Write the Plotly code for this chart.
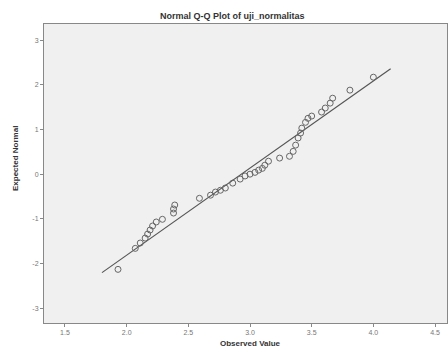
import plotly.graph_objects as go

observed = [1.93, 2.07, 2.11, 2.15, 2.17, 2.19, 2.21, 2.24, 2.29, 2.38, 2.38, 2.39,
            2.59, 2.68, 2.72, 2.76, 2.80, 2.86, 2.92, 2.96, 3.00, 3.04, 3.07, 3.10,
            3.12, 3.15, 3.24, 3.32, 3.35, 3.37, 3.39, 3.41, 3.42, 3.45, 3.47, 3.50,
            3.58, 3.61, 3.65, 3.67, 3.81, 4.00]
expected = [-2.13, -1.66, -1.54, -1.43, -1.34, -1.25, -1.16, -1.07, -1.01, -0.87, -0.78, -0.69,
            -0.54, -0.47, -0.40, -0.36, -0.31, -0.20, -0.11, -0.04, 0.00, 0.04, 0.09, 0.13,
            0.20, 0.29, 0.36, 0.40, 0.51, 0.65, 0.81, 0.92, 1.03, 1.16, 1.25, 1.30,
            1.39, 1.48, 1.59, 1.70, 1.88, 2.17]

# Reference line parameters
line_mean = 2.93
line_sd = 0.513
line_x = [1.80, 4.14]
line_y = [(v - line_mean) / line_sd for v in line_x]

x_ticks = [1.5, 2.0, 2.5, 3.0, 3.5, 4.0, 4.5]
x_tick_labels = ["1.5", "2.0", "2.5", "3.0", "3.5", "4.0", "4.5"]
y_ticks = [-3, -2, -1, 0, 1, 2, 3]
y_tick_labels = ["-3", "-2", "-1", "0", "1", "2", "3"]

fig = go.Figure()
fig.add_trace(go.Scatter(x=line_x, y=line_y, mode="lines",
                         line=dict(color="#555555", width=1.2), showlegend=False,
                         hoverinfo="skip"))
fig.add_trace(go.Scatter(x=observed, y=expected, mode="markers",
                         marker=dict(symbol="circle-open", size=6,
                                     color="#666666", line=dict(width=1, color="#666666")),
                         showlegend=False))

axis_common = dict(showgrid=False, zeroline=False, showline=True, linecolor="#888888",
                   linewidth=1, mirror=True, ticks="outside", ticklen=3,
                   tickcolor="#888888",
                   tickfont=dict(family="Liberation Sans, Arial, sans-serif", size=7,
                                 color="#777777"))

fig.update_xaxes(range=[1.33, 4.597], tickvals=x_ticks, ticktext=x_tick_labels,
                 **axis_common)
fig.update_yaxes(range=[-3.33, 3.36], tickvals=y_ticks, ticktext=y_tick_labels,
                 **axis_common)

plot_w = 448 - 44 - 1
plot_h = 354 - 24 - 31

fig.update_layout(
    width=448, height=354,
    margin=dict(l=44, r=1, t=24, b=31),
    paper_bgcolor="white", plot_bgcolor="#f0f0f0",
    font=dict(family="Liberation Sans, Arial, sans-serif", color="#333333"),
    annotations=[
        dict(text="<b>Normal Q-Q Plot of uji_normalitas</b>",
             x=(232 - 44) / plot_w, y=(354 - 16 - 31) / plot_h,
             xref="paper", yref="paper", showarrow=False,
             font=dict(size=9, color="#333333"), xanchor="center", yanchor="middle"),
        dict(text="<b>Observed Value</b>", x=3.0, y=-(343 - 323) / plot_h,
             xref="x", yref="paper",
             showarrow=False, font=dict(size=8, color="#333333"),
             xanchor="center", yanchor="middle"),
        dict(text="<b>Expected Normal</b>", x=-(44 - 15) / plot_w,
             y=(354 - 31 - 159) / plot_h, xref="paper", yref="paper",
             showarrow=False, textangle=-90, font=dict(size=8, color="#333333"),
             xanchor="center", yanchor="middle"),
    ],
)

fig.write_html("out.html", config={"displayModeBar": False},
               post_script="document.body.style.margin='0';document.body.style.overflow='hidden';")
